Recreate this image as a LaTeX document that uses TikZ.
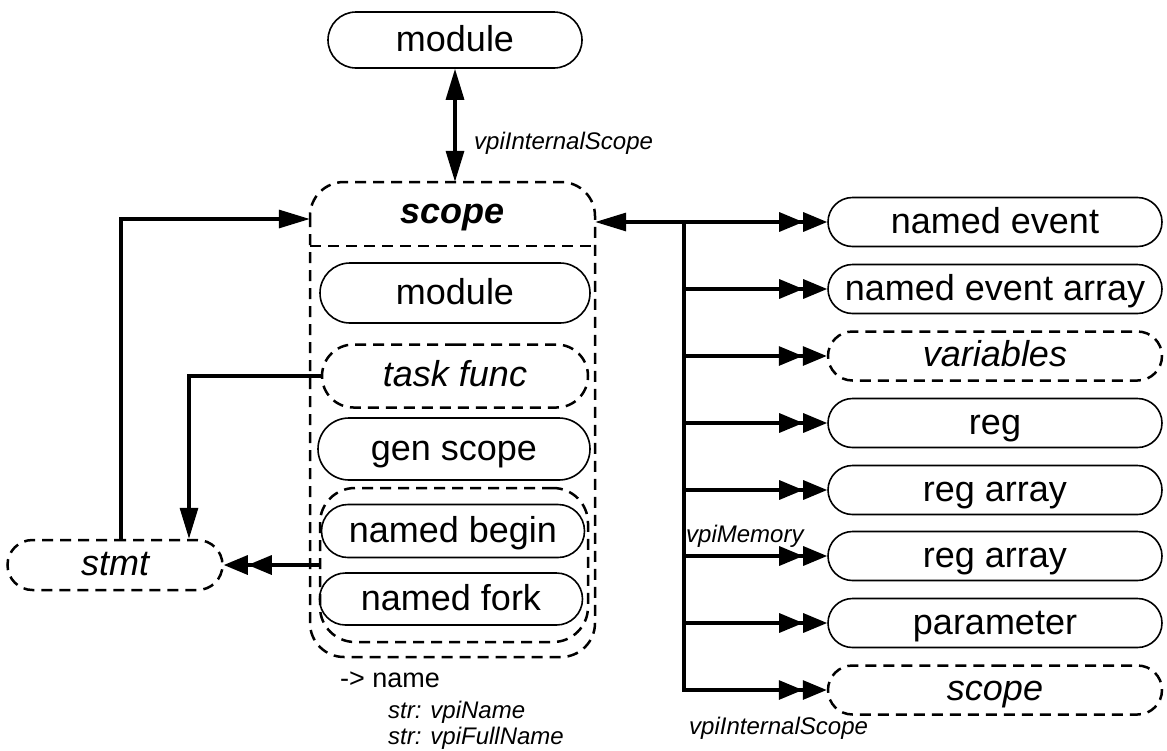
\documentclass[tikz,border=0pt]{standalone}
\usepackage{fontspec}
\setmainfont{Liberation Sans}
\usetikzlibrary{arrows.meta,shapes.misc}
\tikzset{
  pill/.style={rounded rectangle, draw, line width=1.6pt, inner sep=0pt, text height=26pt, text depth=4pt, font=\fontsize{36}{40}\selectfont},
  dpill/.style={rounded rectangle, draw, line width=2.5pt, dash pattern=on 11pt off 7pt, inner sep=0pt, text height=26pt, text depth=5pt, font=\fontsize{36}{40}\selectfont\itshape},
  rbox/.style={minimum width=334pt, minimum height=49pt},
  dsh/.style={line width=2.5pt, dash pattern=on 11pt off 7pt},
  conn/.style={line width=3.2pt, line join=miter},
  onetip/.style={-{Triangle[length=31pt,width=18pt]}},
  bothtip/.style={{Triangle[length=31pt,width=18pt]}-{Triangle[length=31pt,width=18pt]}},
  twotip/.style={-{Triangle[length=24pt,width=19pt]Triangle[length=24pt,width=19pt]}},
  lbl/.style={anchor=west, inner sep=0pt, font=\fontsize{24}{28}\selectfont\itshape},
}
\begin{document}
\begin{tikzpicture}[x=1pt,y=-1pt]
\useasboundingbox (0,0) rectangle (1167,750);

% top module
\node[pill, minimum width=254pt, minimum height=56pt] (mod) at (455,40) {module};

% scope container
\draw[dsh, rounded corners=34pt] (310,182) rectangle (595,657);
\draw[dsh] (310,246) -- (595,246);
\node[inner sep=0pt, minimum width=285pt, minimum height=64pt, text height=24pt, text depth=6pt,
      font=\fontsize{36}{40}\selectfont\bfseries\itshape] (hdr) at (452.5,214) {scope};

% inner nodes
\node[pill, minimum width=270pt, minimum height=60pt] (imod) at (455,293) {module};
\node[dpill, minimum width=266pt, minimum height=63pt] (task) at (455,376) {task func};
\node[pill, minimum width=272pt, minimum height=62pt] (gen) at (454,449) {gen scope};
\node[draw, dsh, rounded corners=35pt, minimum width=268pt, minimum height=154pt, inner sep=0pt] (grp) at (454,565) {};
\node[pill, minimum width=263pt, minimum height=53pt] (nb) at (453,531) {named begin};
\node[pill, minimum width=263pt, minimum height=52pt] (nf) at (451,599) {named fork};

% stmt
\node[dpill, minimum width=215pt, minimum height=50pt] (stmt) at (115,565) {stmt};

% right nodes
\node[pill, rbox] (ne) at (995,222) {named event};
\node[pill, rbox] (nea) at (995,289) {named event array};
\node[dpill, rbox] (var) at (995,356) {variables};
\node[pill, rbox] (reg) at (995,423) {reg};
\node[pill, rbox] (ra1) at (995,490) {reg array};
\node[pill, rbox] (ra2) at (995,556) {reg array};
\node[pill, rbox] (par) at (995,623) {parameter};
\node[dpill, rbox] (sc2) at (995,690) {scope};

% labels
\node[lbl] (l1) at (474,143) {vpiInternalScope};
\node[lbl] (l2) at (686,536) {vpiMemory};
\node[lbl] (l3) at (689,728) {vpiInternalScope};
\node[anchor=west, inner sep=0pt, font=\fontsize{27}{30}\selectfont] (l4) at (340,680) {-> name};
\node[lbl] (l5) at (388,712) {str: vpiName};
\node[lbl] (l6) at (388,738) {str: vpiFullName};

% connectors
\draw[conn, bothtip] (mod.south) -- (mod.south |- hdr.north);
\draw[conn, onetip] ([xshift=6pt]stmt.north) |- (hdr.west |- 0,219);
\draw[conn, onetip] (task.west) -| ([xshift=74pt]stmt.north);
\draw[conn, twotip] (grp.west) -- (stmt.east);

\coordinate (tr) at (684,222);
\draw[conn, {Triangle[length=31pt,width=18pt]}-{Triangle[length=24pt,width=19pt]Triangle[length=24pt,width=19pt]}] (hdr.east |- ne.west) -- (ne.west);
\draw[conn] (tr) -- (tr |- sc2.west);
\draw[conn, twotip] (tr |- nea.west) -- (nea.west);
\draw[conn, twotip] (tr |- var.west) -- (var.west);
\draw[conn, twotip] (tr |- reg.west) -- (reg.west);
\draw[conn, twotip] (tr |- ra1.west) -- (ra1.west);
\draw[conn, twotip] (tr |- ra2.west) -- (ra2.west);
\draw[conn, twotip] (tr |- par.west) -- (par.west);
\draw[conn, twotip] ([xshift=-1.6pt]tr |- sc2.west) -- (sc2.west);
\end{tikzpicture}
\end{document}
